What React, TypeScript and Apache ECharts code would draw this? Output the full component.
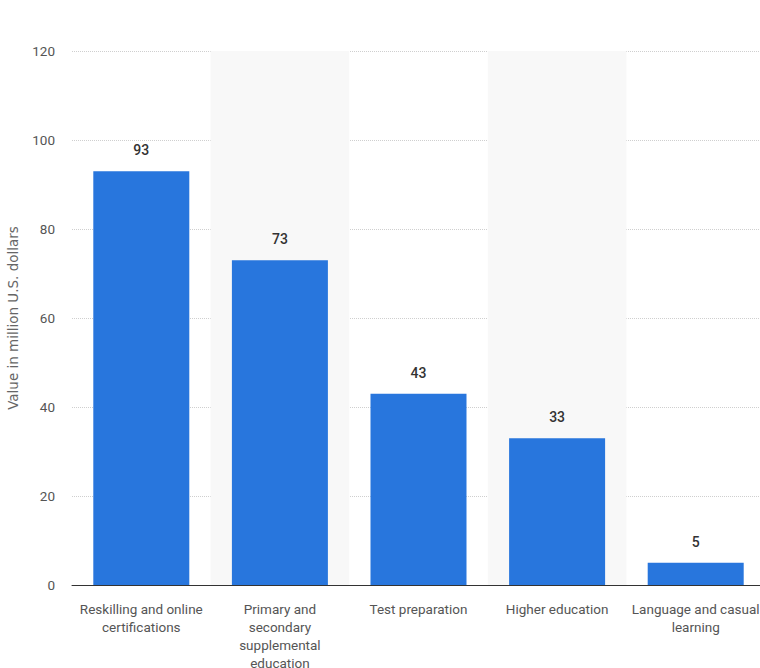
import React, { useEffect, useRef } from "react";
import * as echarts from "echarts";

const categories = [
  "Reskilling and online certifications",
  "Primary and secondary supplemental education",
  "Test preparation",
  "Higher education",
  "Language and casual learning",
];
const axisLabels = [
  "Reskilling and online\ncertifications",
  "Primary and\nsecondary\nsupplemental\neducation",
  "Test preparation",
  "Higher education",
  "Language and casual\nlearning",
];
const values = [93, 73, 43, 33, 5];
const yTicks = [0, 20, 40, 60, 80, 100, 120];

const FONT = "Roboto, 'Noto Sans', sans-serif";

export default function App() {
  const ref = useRef<HTMLDivElement>(null);
  useEffect(() => {
    if (!ref.current) return;
    const chart = echarts.init(ref.current, undefined, { renderer: "svg" });
    chart.setOption({
      animation: false,
      grid: {
        left: 72,
        width: 693,
        top: 51,
        height: 534,
        containLabel: false,
        outerBoundsMode: "none",
      },
      xAxis: {
        type: "category",
        data: categories,
        axisLine: { lineStyle: { color: "#333", width: 1 } },
        axisTick: { show: false },
        axisLabel: {
          interval: 0,
          margin: 15,
          color: "#555",
          fontFamily: FONT,
          fontSize: 13.5,
          lineHeight: 18,
          formatter: (_v: string, i: number) => axisLabels[i],
        },
        splitArea: {
          show: true,
          areaStyle: { color: ["rgba(0,0,0,0)", "#f8f8f8"] },
        },
      },
      yAxis: {
        type: "value",
        min: yTicks[0],
        max: yTicks[yTicks.length - 1],
        interval: 20,
        name: "Value in million U.S. dollars",
        nameLocation: "middle",
        nameGap: 52,
        nameTextStyle: { color: "#666", fontFamily: "'DejaVu Sans', sans-serif", fontSize: 13.5 },
        axisLine: { show: false },
        axisTick: { show: false },
        axisLabel: { margin: 17, color: "#555", fontFamily: FONT, fontSize: 13.5 },
        splitLine: { lineStyle: { color: "#cfcfcf", type: [1, 1], width: 1 } },
      },
      series: [
        {
          type: "bar",
          data: values,
          barWidth: 96,
          itemStyle: { color: "#2876dd" },
          label: {
            show: true,
            position: "top",
            distance: 14,
            color: "#333",
            fontFamily: FONT,
            fontSize: 14,
            fontWeight: 500,
          },
        },
      ],
    });
    return () => chart.dispose();
  }, []);
  return (
    <div
      ref={ref}
      style={{ position: "fixed", left: 0, top: 0, width: 760, height: 668, background: "#fff" }}
    />
  );
}
